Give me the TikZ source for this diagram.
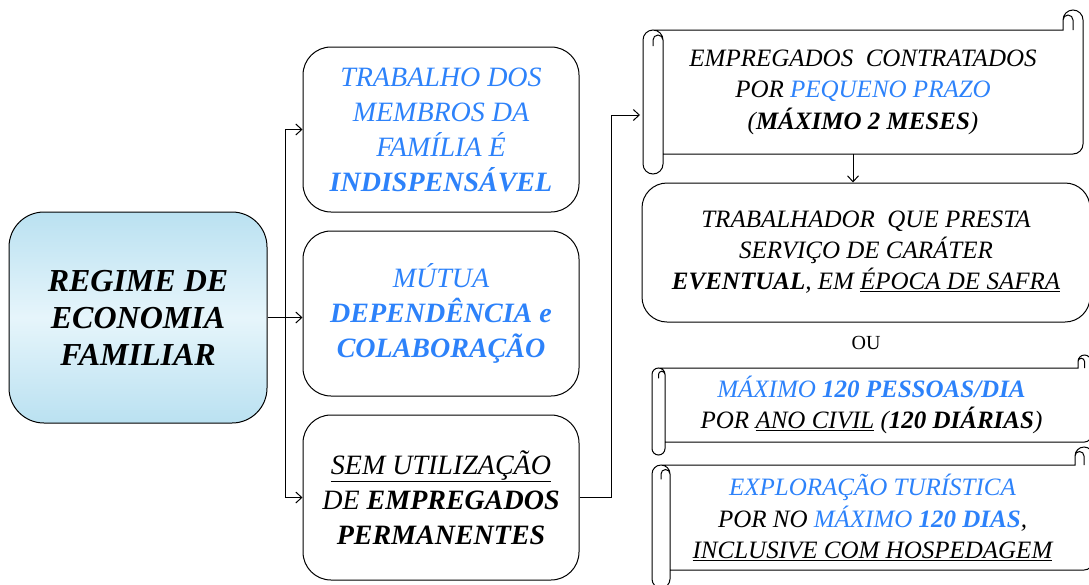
\documentclass[tikz,border=0pt]{standalone}
\usepackage{fontspec}
\setmainfont{Liberation Serif}
\usetikzlibrary{arrows.meta, calc, positioning}
\definecolor{textblue}{RGB}{45,130,250}
\definecolor{shadeedge}{RGB}{186,225,241}
\definecolor{shademid}{RGB}{230,245,251}

\begin{document}
\begin{tikzpicture}[
	x=1pt, y=-1pt,
	box/.style = {draw, line width=1pt, rounded corners=28pt, minimum width=276pt, minimum height=165pt, align=center, font=\fontsize{28}{35}\selectfont\itshape},
	scrollbox/.style = {outer sep=0pt, align=center, font=\fontsize{25}{31.5}\selectfont\itshape},
	scrollline/.style = {line width=1pt},
	arrow/.style = {-{Straight Barb[length=6pt, width=11pt]}, line width=1pt},
	node distance = 18pt and 0pt
]

\useasboundingbox (0,0) rectangle (1089,584);

\node[draw, line width=1pt, rounded corners=35pt, minimum width=258pt, minimum height=211pt, top color=shadeedge, bottom color=shadeedge, middle color=shademid, align=center, font=\fontsize{32}{37}\selectfont\bfseries\itshape] (regime) at (138,317.5) {REGIME DE\\ECONOMIA\\FAMILIAR};

\node[box, text=textblue] (membros) at (441,129.5) {TRABALHO DOS\\MEMBROS DA\\FAMÍLIA É\\\textbf{INDISPENSÁVEL}};
\node[box, text=textblue, below=of membros] (mutua) {MÚTUA\\\textbf{DEPENDÊNCIA e}\\\textbf{COLABORAÇÃO}};
\node[box, below=of mutua] (semempregados) {\underline{SEM UTILIZAÇÃO}\\DE \textbf{EMPREGADOS}\\\textbf{PERMANENTES}};

\node[scrollbox, minimum width=440pt, minimum height=164pt] (prazo) at (863,92) {EMPREGADOS\ \ CONTRATADOS\\POR \textcolor{textblue}{PEQUENO PRAZO}\\(\textbf{MÁXIMO 2 MESES})};
\node[box, minimum width=448pt, minimum height=139pt, rounded corners=25pt, font=\fontsize{25}{31}\selectfont\itshape] (eventual) at (866,252.5) {TRABALHADOR\ \ QUE PRESTA\\SERVIÇO DE CARÁTER\\\textbf{EVENTUAL}, EM \underline{ÉPOCA DE SAFRA}};
\node[below=10pt of eventual, font=\fontsize{20}{24}\selectfont] (ou) {OU};
\node[scrollbox, minimum width=439pt, minimum height=100pt] (pessoas) at (871.5,405) {\textcolor{textblue}{MÁXIMO \textbf{120 PESSOAS/DIA}}\\POR \underline{ANO CIVIL} (\textbf{120 DIÁRIAS})};
\node[scrollbox, minimum width=441pt, minimum height=141pt] (turismo) at (872.5,517.5) {\textcolor{textblue}{EXPLORAÇÃO TURÍSTICA}\\POR NO \textcolor{textblue}{MÁXIMO \textbf{120 DIAS}},\\\underline{INCLUSIVE COM HOSPEDAGEM}};

\foreach \scroll/\rad in {prazo/10, pessoas/6.5, turismo/9} {
	\draw[scrollline] let \p1 = (\scroll.north west), \p2 = (\scroll.south east) in
		(\x1, \y1-3*\rad) -- (\x1, \y2+\rad) arc[start angle=180, end angle=360, radius=\rad*1pt]
		-- (\x1+2*\rad, \y1-3*\rad) arc[start angle=0, end angle=180, radius=\rad*1pt]
		(\x1+\rad, \y1-3.6*\rad) -- (\x1+\rad, \y1-3*\rad) arc[start angle=180, end angle=0, radius=0.5*\rad*1pt]
		(\x1+\rad, \y1-2*\rad) -- (\x2-2*\rad, \y1-2*\rad) -- (\x2-2*\rad, \y1-\rad) arc[start angle=180, end angle=0, radius=\rad*1pt]
		[rounded corners=\rad*1pt] -- (\x2, \y2+2*\rad) -- (\x1+2*\rad, \y2+2*\rad)
		[sharp corners] (\x2-\rad, \y1-2*\rad) -- (\x2-\rad, \y1-\rad) arc[start angle=0, end angle=180, radius=0.5*\rad*1pt];
}

\coordinate (fork) at ($(regime.east)!0.5!(mutua.west |- regime.east)$);
\draw[arrow] (regime.east) -- (mutua.west |- regime.east);
\draw[arrow] (fork) |- (membros.west);
\draw[arrow] (fork) |- (semempregados.west);

\coordinate (entry) at ($(prazo.west)+(-3,23)$);
\draw[arrow] (semempregados.east) -- ++(32,0) |- (entry);

\coordinate (drop) at ($(prazo.south)+(-10,-20)$);
\draw[arrow] (drop) -- (drop |- eventual.north);

\end{tikzpicture}
\end{document}
